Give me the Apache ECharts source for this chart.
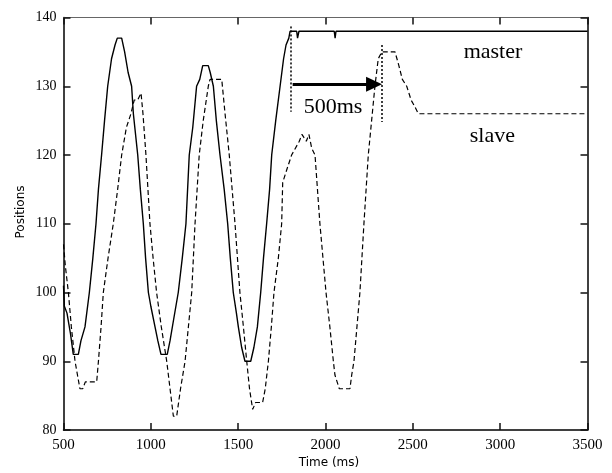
<!DOCTYPE html>
<html>
<head>
<meta charset="utf-8">
<script src="https://cdn.jsdelivr.net/npm/echarts@6/dist/echarts.min.js"></script>
<style>html,body{margin:0;padding:0;background:#fff}#c{width:612px;height:473px}</style>
</head>
<body>
<div id="c"></div>
<script>
const xTicks = [500, 1000, 1500, 2000, 2500, 3000, 3500];
const yTicks = [80, 90, 100, 110, 120, 130, 140];

const masterT = [500,505,520,540,556,585,600,623,648,668,686,700,718,735,753,775,795,808,833,850,870,890,900,910,925,940,957,970,986,1000,1024,1040,1058,1094,1110,1130,1157,1180,1201,1220,1240,1262,1280,1297,1329,1340,1358,1375,1396,1420,1440,1455,1472,1490,1501,1520,1539,1572,1590,1610,1629,1645,1663,1680,1692,1715,1740,1760,1774,1790,1797,1835,1840,1848,2050,2055,2060,3500];
const masterV = [101,98,97,94,91,91,93,95,100,105,110,115,120,125,130,134,136,137,137,135,132,130,126,126,120,115,110,105,100,98,95,93,91,91,93,96,100,105,110,120,124,130,131,133,133,132,130,125,120,115,110,105,100,97,95,92,90,90,92,95,100,105,110,115,120,125,130,134,136,137,138,138,137,138,138,137,138,138];

const slaveT = [500,510,528,545,566,580,594,610,625,690,700,715,728,755,785,810,833,860,886,905,925,944,955,972,995,1013,1033,1060,1091,1110,1129,1148,1170,1196,1215,1234,1253,1277,1300,1329,1339,1406,1425,1449,1482,1510,1530,1549,1565,1583,1600,1640,1655,1673,1690,1705,1730,1749,1755,1780,1806,1850,1865,1890,1905,1921,1940,1968,2003,2025,2045,2054,2079,2140,2150,2163,2180,2197,2220,2245,2283,2302,2322,2398,2420,2440,2465,2490,2512,2531,3500];
const slaveV = [107,104,100,95,90,88,86,86,87,87,90,95,100,105,110,115,120,124,126,128,128,129,126,120,110,105,100,95,90,86,82,82,86,90,95,100,110,120,125,130,131,131,126,120,110,100,95,90,86,83,84,84,86,90,95,100,105,110,116,118,120,122,123,122,123,121,120,110,100,95,90,88,86,86,88,90,95,100,110,120,130,134,135,135,133,131,130,128,127,126,126];

// annotation coordinates (data space)
const dotLine1 = [[1800, 138.7], [1800, 126.3]];
const dotLine2 = [[2322, 136.0], [2322, 124.8]];
const arrowLine = [[1812, 130.3], [2278, 130.3]];
const labels = [
  { text: 'master', t: 2959, v: 135.0 },
  { text: 'slave', t: 2955, v: 122.8 },
  { text: '500ms', t: 2043, v: 127.0 }
];

const zip = (a, b) => a.map((x, i) => [x, b[i]]);

const chart = echarts.init(document.getElementById('c'));
const serif = '"Liberation Serif", "Times New Roman", serif';
const sans = '"DejaVu Sans", sans-serif';

function tick() {
  return { show: true, inside: true, length: 7, lineStyle: { color: '#111', width: 1.5 } };
}

chart.setOption({
  animation: false,
  backgroundColor: '#fff',
  grid: { left: 63.5, right: 24.5, top: 17.5, bottom: 43, containLabel: false },
  xAxis: [
    {
      type: 'value', min: 500, max: 3500, interval: 500, splitLine: { show: false },
      position: 'bottom',
      axisTick: tick(),
      axisLine: { show: true, onZero: false, lineStyle: { color: '#000', width: 1.5 } },
      axisLabel: { show: true, margin: 8, color: '#000', fontFamily: serif, fontSize: 15,
        formatter: v => xTicks.includes(v) ? String(v) : '' }
    },
    {
      type: 'value', min: 500, max: 3500, interval: 500, splitLine: { show: false },
      position: 'top',
      axisTick: tick(),
      axisLine: { show: true, onZero: false, lineStyle: { color: '#666', width: 1 } },
      axisLabel: { show: false }
    }
  ],
  yAxis: [
    {
      type: 'value', min: 80, max: 140, interval: 10, splitLine: { show: false },
      position: 'left',
      axisTick: tick(),
      axisLine: { show: true, onZero: false, lineStyle: { color: '#000', width: 1.5 } },
      axisLabel: { show: true, margin: 7, color: '#000', fontFamily: serif, fontSize: 14,
        formatter: v => yTicks.includes(v) ? String(v) : '' }
    },
    {
      type: 'value', min: 80, max: 140, interval: 10, splitLine: { show: false },
      position: 'right',
      axisTick: tick(),
      axisLine: { show: true, onZero: false, lineStyle: { color: '#000', width: 1.5 } },
      axisLabel: { show: false }
    }
  ],
  series: [
    {
      name: 'master', type: 'line', data: zip(masterT, masterV),
      symbol: 'none', lineStyle: { color: '#000', width: 1.4 },
      markLine: {
        silent: true, animation: false,
        label: { show: false },
        data: [
          [{ coord: dotLine1[0], symbol: 'none', lineStyle: { type: [2, 2], width: 1.5, color: '#000' } },
           { coord: dotLine1[1], symbol: 'none' }],
          [{ coord: dotLine2[0], symbol: 'none', lineStyle: { type: [2, 2], width: 1.5, color: '#000' } },
           { coord: dotLine2[1], symbol: 'none' }],
          [{ coord: arrowLine[0], symbol: 'none', lineStyle: { type: 'solid', width: 3, color: '#000' } },
           { coord: arrowLine[1], symbol: 'triangle', symbolSize: [15, 16] }]
        ]
      }
    },
    {
      name: 'slave', type: 'line', data: zip(slaveT, slaveV),
      symbol: 'none', lineStyle: { color: '#000', width: 1.2, type: [5, 3] }
    }
  ]
});

const gtexts = labels.map(l => {
  const p = chart.convertToPixel({ xAxisIndex: 0, yAxisIndex: 0 }, [l.t, l.v]);
  return { type: 'text', x: p[0], y: p[1], style: { text: l.text, font: '22px ' + serif, fill: '#000', align: 'center', verticalAlign: 'middle' } };
});
gtexts.push({ type: 'text', x: 329, y: 463, style: { text: 'Time (ms)', font: '12px ' + sans, fill: '#000', align: 'center', verticalAlign: 'middle' } });
gtexts.push({ type: 'text', x: 21, y: 212, rotation: Math.PI / 2, style: { text: 'Positions', font: '12px ' + sans, fill: '#000', align: 'center', verticalAlign: 'middle' } });
chart.setOption({ graphic: gtexts });
</script>
</body>
</html>
